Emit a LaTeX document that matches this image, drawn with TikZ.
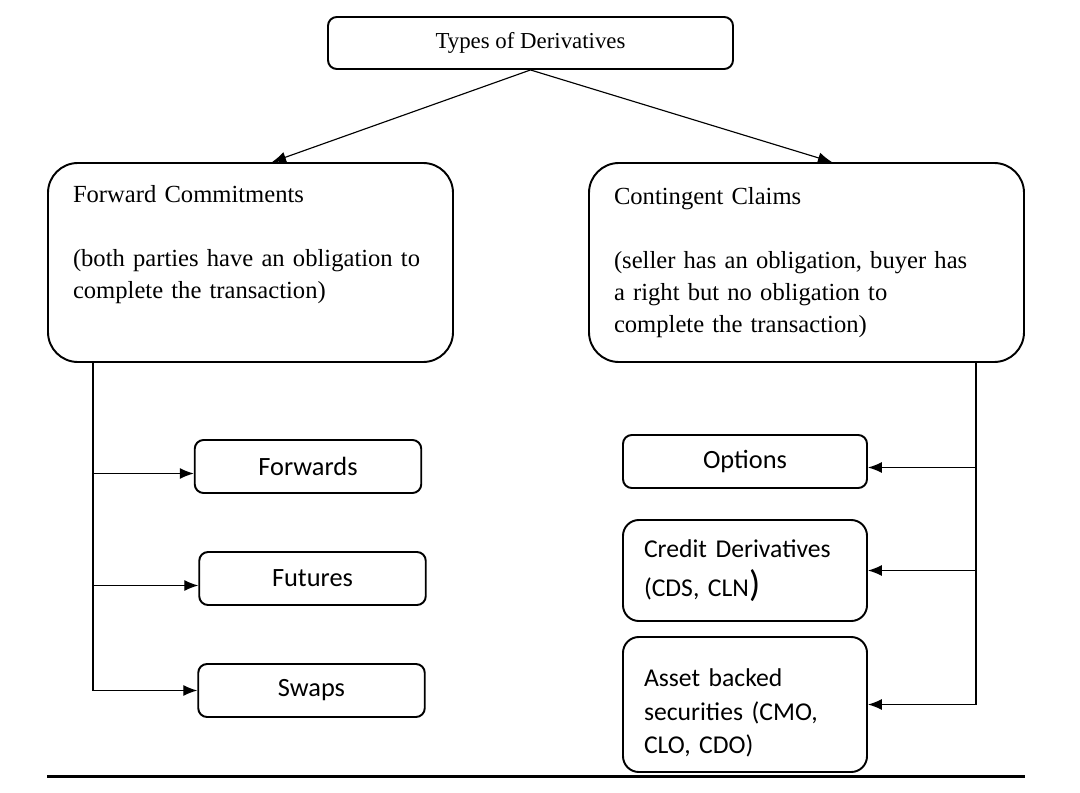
\documentclass[tikz,border=0pt]{standalone}
\usepackage{fontspec}
\setmainfont{Liberation Serif}
\setsansfont{Carlito}
\usepackage{tikz}
\usetikzlibrary{shapes,arrows.meta,positioning,calc}
\tikzstyle{topbox} = [rectangle, rounded corners=5pt, draw=black, line width=1.1pt, minimum width=8.1cm, minimum height=1.04cm, text centered, font=\fontsize{13}{16}\selectfont]
\tikzstyle{bigbox} = [rectangle, rounded corners=17pt, draw=black, line width=1.1pt, minimum height=3.98cm, inner xsep=0.5cm, align=left, font=\fontsize{14}{18.2}\selectfont]
\tikzstyle{smallbox} = [rectangle, rounded corners=5pt, draw=black, line width=1.1pt, minimum height=1.06cm, text centered, font=\sffamily\fontsize{15}{18}\selectfont]
\tikzstyle{tallbox} = [rectangle, rounded corners=9pt, draw=black, line width=1.1pt, inner xsep=0.42cm, text width=4.04cm, align=left, font=\sffamily\fontsize{14.6}{19}\selectfont]
\tikzstyle{line} = [line width=0.65pt]
\tikzstyle{arrow} = [line width=0.65pt, -{Latex[length=2.8mm,width=2.2mm]}]

\begin{document}
\begin{tikzpicture}
\useasboundingbox (0,0) rectangle (21.6,15.84);

% Racine
\node (types) [topbox] at (10.61,14.98) {Types of Derivatives};

% Deux familles
\node (fwdcom) [bigbox, text width=7.1cm] at (5.01,10.59) {
    Forward Commitments\\[18pt]
    (both parties have an obligation to\\
    complete the transaction)\\
    \strut
};

\node (contclaim) [bigbox, text width=7.7cm] at (16.13,10.59) {
    Contingent Claims\\[18pt]
    (seller has an obligation, buyer has\\
    a right but no obligation to\\
    complete the transaction)
};

% Forward commitments
\node (forwards) [smallbox, minimum width=4.53cm] at (6.16,6.51) {Forwards};
\node (futures) [smallbox, minimum width=4.53cm] at (6.25,4.27) {Futures};
\node (swaps) [smallbox, minimum width=4.53cm] at (6.23,2.03) {Swaps};

% Contingent claims
\node (options) [smallbox, minimum width=4.88cm] at (14.9,6.61) {Options};
\node (credit) [tallbox, minimum height=2.02cm] at (14.9,4.43) {
    Credit Derivatives\\[3pt]
    (CDS, CLN{\fontsize{21}{21}\selectfont)}
};
\node (asset) [tallbox, minimum height=2.7cm] at (14.9,1.75) {
    \rule{0pt}{20pt}Asset backed\\
    securities (CMO,\\
    CLO, CDO)
};

% Relations
\draw [arrow] (types.south) -- ([xshift=0.43cm]fwdcom.north);
\draw [arrow] (types.south) -- ([xshift=0.51cm]contclaim.north);

\coordinate (lbus) at (1.86,0);
\coordinate (rbus) at (19.52,0);
\coordinate (fwdin) at ([yshift=-0.14cm]forwards.west);
\coordinate (futin) at ([yshift=-0.14cm]futures.west);
\coordinate (optin) at ([yshift=-0.12cm]options.east);

\draw [line] (lbus |- fwdcom.south) -- (lbus |- swaps.west);
\draw [arrow] (lbus |- fwdin) -- (fwdin);
\draw [arrow] (lbus |- futin) -- (futin);
\draw [arrow] (lbus |- swaps.west) -- (swaps.west);

\draw [line] (rbus |- contclaim.south) -- (rbus |- asset.east);
\draw [arrow] (rbus |- optin) -- (optin);
\draw [arrow] (rbus |- credit.east) -- (credit.east);
\draw [arrow] (rbus |- asset.east) -- (asset.east);

% Trait du bas
\draw [line width=1.7pt] (0.94,0.32) -- (20.5,0.32);

\end{tikzpicture}
\end{document}
